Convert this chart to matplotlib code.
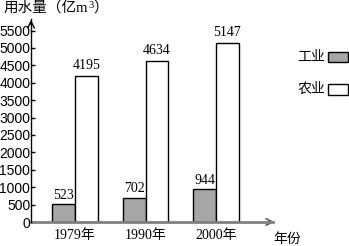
import matplotlib
matplotlib.use("Agg")
import numpy as np
import matplotlib.pyplot as plt
from matplotlib.patches import Rectangle

years = ["1979年", "1990年", "2000年"]
industry = [523, 702, 944]
agriculture = [4195, 4634, 5147]
yticks = list(range(0, 5501, 500))

CJK = ["Liberation Serif", "Noto Sans CJK SC"]
SANS = ["Liberation Sans", "Noto Sans CJK SC"]

W, H = 349, 246
fig = plt.figure(figsize=(W / 100, H / 100), dpi=100)
# axes placed in pixel terms: y-axis at x=31, baseline at y=222, arrow tips at x=277 / y=17
ax = fig.add_axes([31 / W, (H - 222) / H, (277 - 31) / W, (222 - 17) / H])

x = np.arange(len(years))
width = 0.32
ax.bar(x - width / 2, industry, width, color="#a6a6a6", edgecolor="black", linewidth=1.0, zorder=3)
ax.bar(x + width / 2, agriculture, width, color="white", edgecolor="black", linewidth=1.0, zorder=3)

for xi, v in zip(x, industry):
    ax.text(xi - width / 2, v + 60, str(v), ha="center", va="bottom", fontsize=10, family=CJK)
for xi, v in zip(x, agriculture):
    ax.text(xi + width / 2, v + 120, str(v), ha="center", va="bottom", fontsize=10, family=CJK)

ax.set_xlim(-0.624, 2.865)
ax.set_ylim(0, 5890)

for s in ["top", "right", "bottom", "left"]:
    ax.spines[s].set_visible(False)
ax.plot([0, 0.985], [0, 0], transform=ax.transAxes, color="#808080", lw=2, clip_on=False, zorder=4)
ax.plot([0, 0], [0, 0.99], transform=ax.transAxes, color="black", lw=1, clip_on=False, zorder=4)
ax.annotate("", xy=(1.0, 0), xytext=(0.95, 0), xycoords="axes fraction",
            arrowprops=dict(arrowstyle="->", color="#404040", lw=1, mutation_scale=12))
ax.annotate("", xy=(0, 1.0), xytext=(0, 0.95), xycoords="axes fraction",
            arrowprops=dict(arrowstyle="->", color="black", lw=1, mutation_scale=12))

ax.set_yticks(yticks)
ax.set_yticklabels([str(t) for t in yticks], family=SANS, fontsize=10)
ax.tick_params(axis="y", direction="in", length=3, pad=0.5, width=1)
ax.set_xticks(x)
ax.set_xticklabels(years, family=CJK, fontsize=10)
ax.tick_params(axis="x", length=0, pad=5)

# unit label built from pieces so the superscript 3 stays readable
t1 = fig.text(4 / W, 1 - 8 / H, "用水量（亿m", family=CJK, fontsize=10.5, ha="left", va="center")
fig.canvas.draw()
bb = t1.get_window_extent()
t2 = fig.text(bb.x1 / W, 1 - 5 / H, "3", family=CJK, fontsize=7.5, ha="left", va="center")
fig.canvas.draw()
bb2 = t2.get_window_extent()
fig.text(bb2.x1 / W, 1 - 8 / H, "）", family=CJK, fontsize=10.5, ha="left", va="center")

fig.text(273 / W, 1 - 239 / H, "年份", family=CJK, fontsize=10, ha="left", va="center")

# legend
fig.text(325 / W, 1 - 57 / H, "工业", family=CJK, fontsize=10, ha="right", va="center")
fig.text(325 / W, 1 - 89 / H, "农业", family=CJK, fontsize=10, ha="right", va="center")
fig.patches.append(Rectangle((328 / W, 1 - 62 / H), 20 / W, 10 / H, transform=fig.transFigure,
                             facecolor="#a6a6a6", edgecolor="black", lw=1))
fig.patches.append(Rectangle((328 / W, 1 - 95 / H), 20 / W, 11 / H, transform=fig.transFigure,
                             facecolor="white", edgecolor="black", lw=1))

fig.savefig("out.png", dpi=100)
